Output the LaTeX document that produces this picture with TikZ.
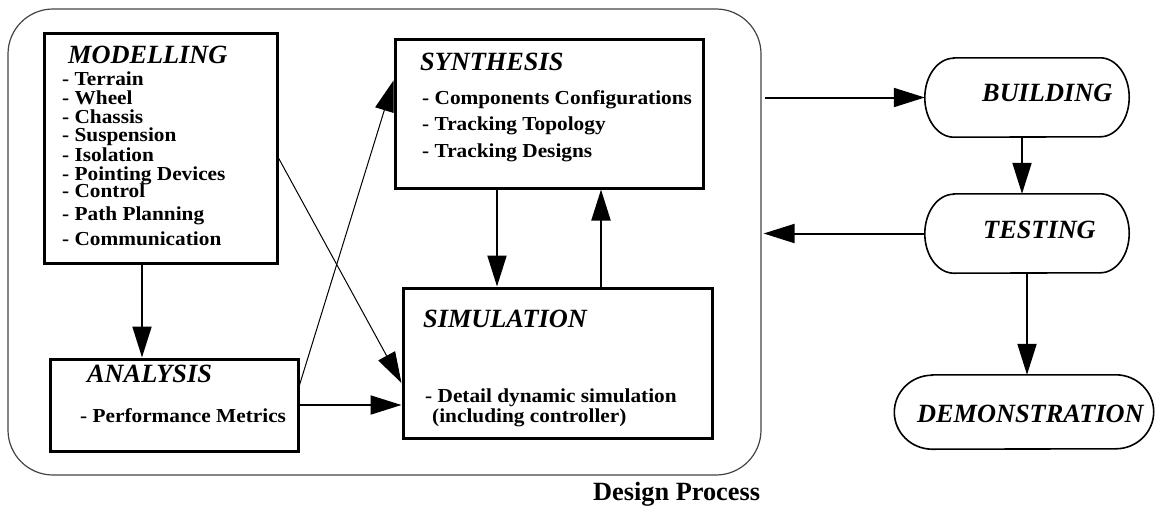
\documentclass[tikz,border=0pt]{standalone}
\usepackage{fontspec}
\usepackage{graphicx}
\setmainfont{Liberation Serif}
\usetikzlibrary{arrows.meta}
\definecolor{framegray}{HTML}{444444}
% outline of a capsule: node name, horizontal radius, vertical radius
\newcommand\capsuleframe[3]{%
  \draw[capsule] ([xshift=#2]#1.north west) -- ([xshift=-#2]#1.north east)
    arc[start angle=90,end angle=-90,x radius=#2,y radius=#3]
    -- ([xshift=#2]#1.south west)
    arc[start angle=270,end angle=90,x radius=#2,y radius=#3] -- cycle;}
% list entries are set slightly condensed in height
\newcommand\listtext[1]{\scalebox{1}[0.93]{#1}}
\begin{document}
\begin{tikzpicture}[x=1pt,y=-1pt,
  stagebox/.style={draw,line width=3pt,inner sep=0pt},
  pillnode/.style={inner sep=0pt},
  capsule/.style={line width=1.6pt},
  title/.style={inner sep=0pt,anchor=base west,font=\fontsize{26.3}{26.3}\selectfont\bfseries\itshape},
  item/.style={inner sep=0pt,anchor=base west,font=\fontsize{21.3}{21.3}\selectfont\bfseries},
  caption/.style={inner sep=0pt,anchor=base west,font=\fontsize{26.3}{26.3}\selectfont\bfseries},
  flow/.style={line width=2pt,-{Triangle[length=31pt,width=19pt]}},
  thinflow/.style={line width=1pt,-{Triangle[length=31pt,width=19pt]}}]
\useasboundingbox (0,0) rectangle (1155,506);

% design process frame
\node[draw=framegray,line width=1.2pt,rounded corners=45pt,minimum width=753pt,minimum height=466pt,inner sep=0pt] (design) at (384.5,242) {};
\node[caption] (designlabel) at (593,500) {Design Process};

% stage boxes
\node[stagebox,minimum width=233pt,minimum height=230pt] (modelling) at (160.5,148) {};
\node[stagebox,minimum width=308pt,minimum height=149pt] (synthesis) at (549,113.5) {};
\node[stagebox,minimum width=309pt,minimum height=150pt] (simulation) at (557.5,363) {};
\node[stagebox,minimum width=248pt,minimum height=92pt] (analysis) at (174,405) {};

% modelling contents
\node[title] (modtitle) at (68,63) {MODELLING};
\foreach \t/\y [count=\i] in {Terrain/85.7,Wheel/104,Chassis/123,Suspension/141.7,Isolation/161,Pointing Devices/180,Control/197,Path Planning/220.7,Communication/245}
  \node[item] (mod\i) at (62,\y) {\listtext{- \t}};

% synthesis contents
\node[title] (syntitle) at (420,70) {SYNTHESIS};
\foreach \t/\y [count=\i] in {Components Configurations/104,Tracking Topology/130,Tracking Designs/157}
  \node[item] (syn\i) at (422,\y) {\listtext{- \t}};

% simulation contents
\node[title] (simtitle) at (423,327) {SIMULATION};
\node[item] (sim1) at (425,402) {\listtext{- Detail dynamic simulation}};
\node[item] (sim2) at (432,422) {\listtext{(including controller)}};

% analysis contents
\node[title] (anatitle) at (87,382) {ANALYSIS};
\node[item] (ana1) at (80,422) {\listtext{- Performance Metrics}};

% later stages
\node[pillnode,minimum width=204pt,minimum height=79pt] (building) at (1027,97.5) {};
\node[pillnode,minimum width=204pt,minimum height=79pt] (testing) at (1027,233.5) {};
\node[pillnode,minimum width=259pt,minimum height=74pt] (demo) at (1024,412) {};
\capsuleframe{building}{29pt}{39.5pt}
\capsuleframe{testing}{29pt}{39.5pt}
\capsuleframe{demo}{38pt}{37pt}
\node[title] (buildtext) at (982,101) {BUILDING};
\node[title] (testtext) at (983,238) {TESTING};
\node[title] (demotext) at (917,422) {DEMONSTRATION};

% connectors inside the design process
\coordinate (m2a) at (142,0);
\draw[flow] (modelling.south -| m2a) -- (analysis.north -| m2a);
\draw[thinflow] ([yshift=20pt]analysis.east) -- ([yshift=33pt]synthesis.west);
\draw[thinflow] ([yshift=-10pt]modelling.east) -- ([yshift=-20pt]simulation.west);
\draw[flow] (analysis.east) -- (analysis.east -| simulation.west);
\draw[flow] ([xshift=-52pt]synthesis.south) -- ([xshift=-52pt]synthesis.south |- simulation.north);
\draw[flow] ([xshift=52pt]synthesis.south |- simulation.north) -- ([xshift=52pt]synthesis.south);

% connectors to and from the later stages
\coordinate (exitb) at (765,97.5);
\draw[flow] (exitb) -- (building.west);
\draw[flow] ([xshift=-5pt]building.south) -- ([xshift=-5pt]building.south |- testing.north);
\draw[flow] (testing.west) -- ([xshift=2pt]testing.west -| design.east);
\draw[flow] (testing.south) -- (testing.south |- demo.north);
\end{tikzpicture}
\end{document}
